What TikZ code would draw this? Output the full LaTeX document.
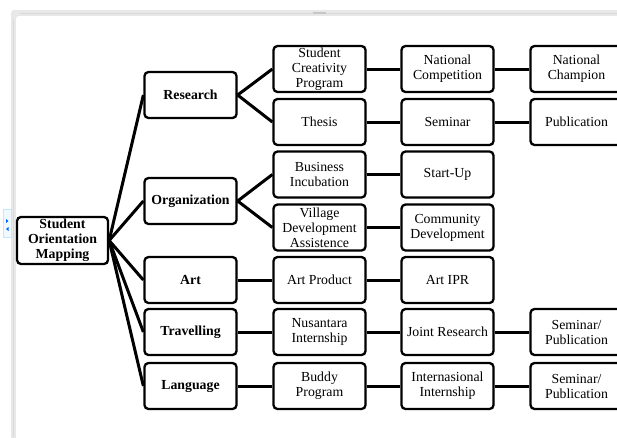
\documentclass[tikz,border=0pt]{standalone}
\usepackage{fontspec}
\setmainfont{Liberation Serif}
\usetikzlibrary{shadows}
\begin{document}
\begin{tikzpicture}[x=1pt,y=-1pt,
  box/.style={draw=black, line width=2.3pt, rounded corners=4pt, fill=white,
    minimum width=92pt, minimum height=46pt, inner sep=0pt, align=center,
    font=\fontsize{13.8}{15}\selectfont,
    drop shadow={shadow xshift=0.8pt, shadow yshift=-0.8pt, opacity=0.35, fill=gray}},
  bbox/.style={box, font=\fontsize{13.8}{15}\selectfont\bfseries},
  link/.style={draw=black, line width=3pt}]
\useasboundingbox (0,0) rectangle (617,437);
\clip (0,0) rectangle (617,437);
% frame
\fill[gray!18, rounded corners=3pt] (11,10) rectangle (640,460);
\fill[white, rounded corners=3pt] (16,16) rectangle (640,460);
\draw[gray!30, line width=0.4pt] (13.5,20) -- (13.5,437);
\draw[gray!30, line width=0.4pt] (20,13) -- (617,13);
\fill[gray!45] (313,11.5) rectangle (326,13.5);
\fill[cyan!6] (3,209) rectangle (11,237);
\draw[cyan!25, line width=0.4pt] (3,209) rectangle (11,237);
\fill[blue!60!cyan] (6,219) -- (8.5,221) -- (6,223) -- cycle;
\fill[blue!60!cyan] (8.5,227) -- (6,229) -- (8.5,231) -- cycle;
% nodes
\node[bbox, minimum width=91pt, minimum height=47pt] (root) at (62.5,240.5) {Student\\Orientation\\Mapping};
\node[bbox] (res) at (190.5,95) {Research};
\node[bbox] (org) at (190.5,201) {Organization};
\node[bbox] (art) at (190.5,280) {Art};
\node[bbox] (tra) at (190.5,332) {Travelling};
\node[bbox] (lan) at (190.5,386) {Language};
\node[box] (scp) at (319.5,69) {Student\\Creativity\\Program};
\node[box] (the) at (319.5,122) {Thesis};
\node[box] (bi) at (319.5,174.5) {Business\\Incubation};
\node[box] (vda) at (319.5,227.5) {Village\\Development\\Assistence};
\node[box] (ap) at (319.5,280) {Art Product};
\node[box] (nus) at (319.5,332) {Nusantara\\Internship};
\node[box] (bud) at (319.5,386) {Buddy\\Program};
\node[box] (nc) at (447.5,69) {National\\Competition};
\node[box] (sem) at (447.5,122) {Seminar};
\node[box] (su) at (447.5,174.5) {Start-Up};
\node[box] (cd) at (447.5,227.5) {Community\\Development};
\node[box] (ipr) at (447.5,280) {Art IPR};
\node[box] (jr) at (447.5,332) {Joint Research};
\node[box] (ii) at (447.5,386) {Internasional\\Internship};
\node[box] (nch) at (576.5,69) {National\\Champion};
\node[box] (pub) at (576.5,122) {Publication};
\node[box] (sp1) at (576.5,332) {Seminar/\\Publication};
\node[box] (sp2) at (576.5,386) {Seminar/\\Publication};
% connectors
\foreach \t in {res,org,art,tra,lan} \path[link] (root.east) -- (\t.west);
\path[link] (res.east) -- (scp.west);
\path[link] (res.east) -- (the.west);
\path[link] (org.east) -- (bi.west);
\path[link] (org.east) -- (vda.west);
\path[link] (art.east) -- (ap.west);
\path[link] (tra.east) -- (nus.west);
\path[link] (lan.east) -- (bud.west);
\path[link] (scp) -- (nc);
\path[link] (the) -- (sem);
\path[link] (bi) -- (su);
\path[link] (vda) -- (cd);
\path[link] (ap) -- (ipr);
\path[link] (nus) -- (jr);
\path[link] (bud) -- (ii);
\path[link] (nc) -- (nch);
\path[link] (sem) -- (pub);
\path[link] (jr) -- (sp1);
\path[link] (ii) -- (sp2);
\end{tikzpicture}
\end{document}
